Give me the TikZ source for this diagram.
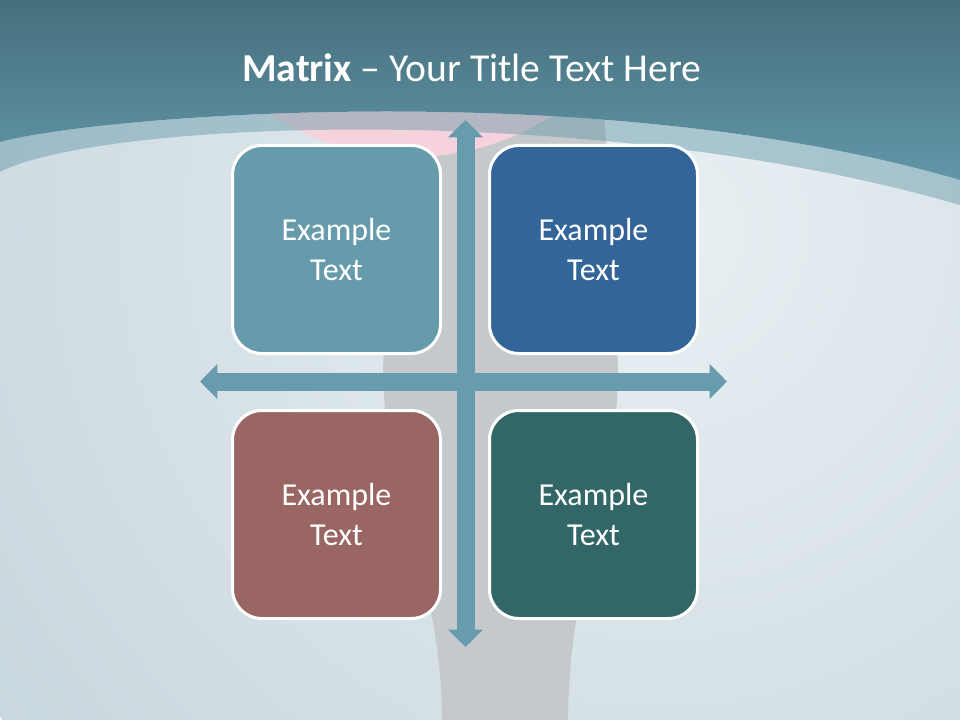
\documentclass[tikz,border=0pt]{standalone}
\usepackage{fontspec}
\setmainfont{Carlito}
\usepackage{tikz}
\usetikzlibrary{arrows.meta, positioning}

\definecolor{bandtop}{RGB}{70,111,125}
\definecolor{bandlow}{RGB}{98,151,168}
\definecolor{paleback}{RGB}{232,240,243}
\definecolor{duskback}{RGB}{201,215,222}
\definecolor{vasegray}{RGB}{198,201,203}
\definecolor{blush}{RGB}{246,210,220}
\definecolor{axisteal}{RGB}{102,156,174}
\definecolor{quadteal}{RGB}{102,155,172}
\definecolor{quadblue}{RGB}{51,101,152}
\definecolor{quadrose}{RGB}{153,102,99}
\definecolor{quadpine}{RGB}{51,102,102}

\tikzset{
  quad/.style={draw=white, line width=2.25pt, rounded corners=22pt, minimum width=156pt, minimum height=156pt, inner sep=0pt, text=white, align=center, font=\fontsize{24}{30}\selectfont},
  axis/.style={draw=axisteal, line width=13.5pt, {Triangle[length=13pt,width=25.5pt]}-{Triangle[length=13pt,width=25.5pt]}}
}

\begin{document}
\begin{tikzpicture}[x=0.75pt, y=-0.75pt]
\useasboundingbox (0,0) rectangle (960,720);

% backdrop
\begin{scope}
\clip (0,0) rectangle (960,720);
\shade[inner color=paleback, outer color=duskback] (660,230) circle (820);
\fill[vasegray] (400,100) .. controls (388,240) .. (383,370) .. controls (386,520) and (440,560) .. (442,720) -- (568,720) .. controls (570,560) and (616,520) .. (618,370) .. controls (614,240) .. (603,100) -- cycle;
\fill[blush] (412,-100) circle (257);
\shade[top color=bandtop, bottom color=bandlow] (0,0) -- (960,0) -- (960,180) .. controls (600,75) and (100,115) .. (0,142) -- cycle;
\fill[bandlow, opacity=0.45] (0,142) .. controls (100,115) and (600,75) .. (960,180) -- (960,205) .. controls (600,100) and (100,120) .. (0,172) -- cycle;
\end{scope}

\node[anchor=base west, inner sep=0pt, text=white, font=\fontsize{29.7}{36}\selectfont] (title) at (242,82) {\textbf{Matrix} – Your Title Text Here};

% axes
\coordinate (north) at (465.5,120);
\coordinate (south) at (465.5,647);
\coordinate (west) at (200,381.5);
\coordinate (east) at (727,381.5);
\draw[axis] (north) -- (south);
\draw[axis] (west) -- (east);

% quadrants
\node[quad, fill=quadteal] (nw) at (336.5,249.5) {Example\\Text};
\node[quad, fill=quadblue, right=34.5pt of nw] (ne) {Example\\Text};
\node[quad, fill=quadrose, below=40.5pt of nw] (sw) {Example\\Text};
\node[quad, fill=quadpine, right=34.5pt of sw] (se) {Example\\Text};

\end{tikzpicture}
\end{document}
